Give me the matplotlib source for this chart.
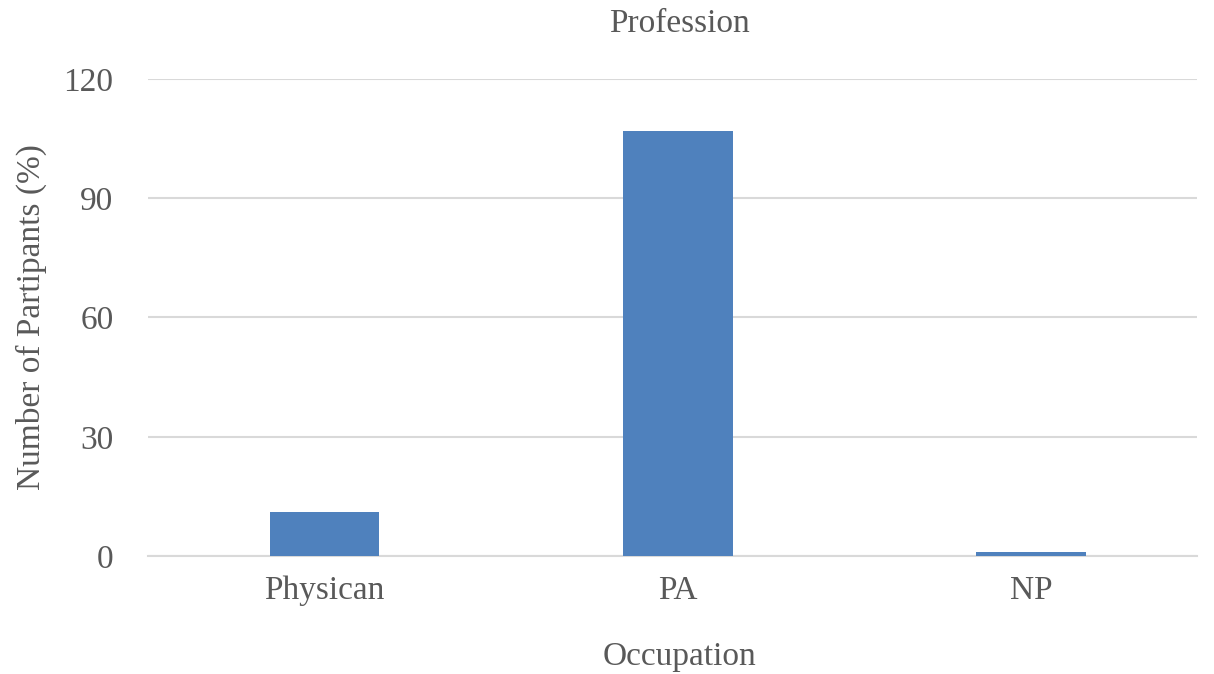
import matplotlib.pyplot as plt
import numpy as np

categories = ['Physican', 'PA', 'NP']
participants = [11, 107, 1]
y_ticks = [0, 30, 60, 90, 120]

text_color = '#595959'
bar_color = '#4F81BD'
grid_color = '#D9D9D9'

plt.rcParams['font.family'] = ['Liberation Serif', 'DejaVu Serif']

fig = plt.figure(figsize=(12.14, 6.74), dpi=100)
ax = fig.add_axes([0.122, 0.175, 0.864, 0.708])

x = np.arange(len(categories))
ax.bar(x, participants, width=0.31, color=bar_color, zorder=3)

ax.set_xlim(-0.5, len(categories) - 0.53)
ax.set_ylim(0, 120)
ax.set_yticks(y_ticks)
ax.set_xticks(x)
ax.set_xticklabels(categories)

ax.yaxis.grid(True, color=grid_color, linewidth=1.5, zorder=0)
for side in ['top', 'right', 'left']:
    ax.spines[side].set_visible(False)
ax.spines['bottom'].set_color(grid_color)
ax.spines['bottom'].set_linewidth(1.5)
ax.tick_params(axis='both', length=0, labelsize=24, labelcolor=text_color)
ax.tick_params(axis='y', pad=25)
ax.tick_params(axis='x', pad=14)

ax.set_title('Profession', fontsize=24, color=text_color, pad=34, x=0.507)
ax.set_xlabel('Occupation', fontsize=24, color=text_color)
ax.xaxis.set_label_coords(0.507, -0.18)
ax.set_ylabel('Number of Partipants (%)', fontsize=24, color=text_color, labelpad=12)

fig.savefig('out.png', dpi=100)
